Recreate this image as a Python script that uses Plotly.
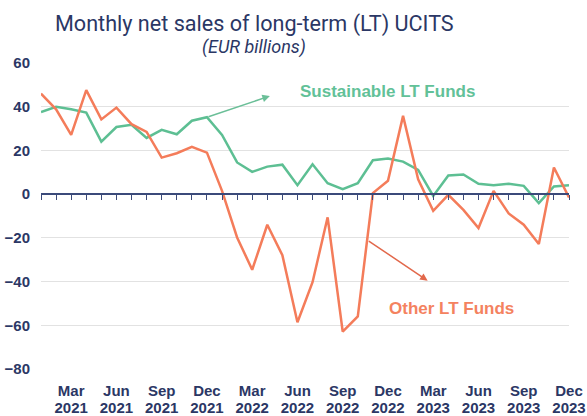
import plotly.graph_objects as go

months = ["Jan 2021", "Feb 2021", "Mar 2021", "Apr 2021", "May 2021", "Jun 2021",
          "Jul 2021", "Aug 2021", "Sep 2021", "Oct 2021", "Nov 2021", "Dec 2021",
          "Jan 2022", "Feb 2022", "Mar 2022", "Apr 2022", "May 2022", "Jun 2022",
          "Jul 2022", "Aug 2022", "Sep 2022", "Oct 2022", "Nov 2022", "Dec 2022",
          "Jan 2023", "Feb 2023", "Mar 2023", "Apr 2023", "May 2023", "Jun 2023",
          "Jul 2023", "Aug 2023", "Sep 2023", "Oct 2023", "Nov 2023", "Dec 2023"]

sustainable = [37.6, 40.0, 38.8, 37.3, 24.0, 30.7, 31.7, 25.7, 29.4, 27.4, 33.6, 35.2,
               27.1, 14.5, 10.2, 12.6, 13.5, 4.1, 13.7, 5.0, 2.3, 5.0, 15.5, 16.3,
               14.9, 11.1, -0.8, 8.5, 9.0, 4.7, 4.1, 4.7, 3.8, -4.1, 3.5, 4.1]

other = [46.0, 38.8, 27.1, 47.6, 34.2, 39.6, 32.0, 28.5, 16.7, 18.7, 21.6, 19.0,
         1.5, -19.8, -34.6, -14.0, -27.9, -58.6, -40.3, -10.6, -62.9, -55.9, 0.5, 6.1,
         35.8, 6.8, -7.6, -0.3, -7.2, -15.5, 1.5, -8.8, -14.0, -22.8, 12.2, -1.5]

tick_months = ["Mar 2021", "Jun 2021", "Sep 2021", "Dec 2021", "Mar 2022", "Jun 2022",
               "Sep 2022", "Dec 2022", "Mar 2023", "Jun 2023", "Sep 2023", "Dec 2023"]

y_range = [-80, 60]

GREEN = "#5dbf93"
ORANGE = "#f47c5a"
NAVY = "#2b3765"

x_idx = list(range(len(months)))
tickvals = [months.index(m) for m in tick_months]
month_text = [m.split(" ")[0] for m in tick_months]
year_text = [m.split(" ")[1] for m in tick_months]
x_range = [0, len(months) - 1]

fig = go.Figure()
fig.add_trace(go.Scatter(x=x_idx, y=sustainable, mode="lines", name="Sustainable LT Funds",
                         line=dict(color=GREEN, width=2.5)))
fig.add_trace(go.Scatter(x=x_idx, y=other, mode="lines", name="Other LT Funds",
                         line=dict(color=ORANGE, width=2.5)))
# carrier traces for the extra axes (zero line with monthly ticks, year labels)
fig.add_trace(go.Scatter(x=[], y=[], xaxis="x2", showlegend=False, hoverinfo="skip"))
fig.add_trace(go.Scatter(x=[], y=[], xaxis="x3", showlegend=False, hoverinfo="skip"))

zero_pos = (0 - y_range[0]) / (y_range[1] - y_range[0])
tick_font = dict(size=15, color=NAVY, family="Liberation Sans, Arial", weight="bold")

fig.update_layout(
    width=587, height=416,
    margin=dict(l=41, r=18, t=63, b=47),
    paper_bgcolor="white", plot_bgcolor="white",
    showlegend=False,
    font=dict(family="Liberation Sans, Arial, sans-serif", color=NAVY),
    xaxis=dict(range=x_range, tickmode="array", tickvals=tickvals,
               ticktext=month_text, showgrid=False, showline=False, zeroline=False,
               ticks="", tickfont=tick_font, ticklabelstandoff=11, automargin=False),
    xaxis3=dict(overlaying="x", anchor="y", side="bottom", range=x_range,
                tickmode="array", tickvals=tickvals, ticktext=year_text,
                showgrid=False, showline=False, zeroline=False, ticks="",
                tickfont=tick_font, ticklabelstandoff=28, automargin=False),
    xaxis2=dict(overlaying="x", anchor="free", position=zero_pos, side="bottom",
                range=x_range, tickmode="linear", tick0=0, dtick=1,
                ticks="outside", ticklen=5, tickwidth=1.2, tickcolor="#3b4a7a",
                showline=True, linecolor="#3b4a7a", linewidth=1.5,
                showticklabels=False, showgrid=False, zeroline=False, automargin=False),
    yaxis=dict(range=y_range, dtick=20, tick0=0, showgrid=True, gridcolor="#e2e2e2",
               gridwidth=1, zeroline=False, showline=False, ticks="",
               tickfont=tick_font, ticklabelstandoff=10, automargin=False),
)

# title and subtitle
fig.add_annotation(text="Monthly net sales of long-term (LT) UCITS", xref="paper", yref="paper",
                   x=0.4037, y=1.128, xanchor="center", yanchor="middle", showarrow=False,
                   font=dict(family="Roboto", size=21.6, color=NAVY))
fig.add_annotation(text="<i>(EUR billions)</i>", xref="paper", yref="paper",
                   x=0.4037, y=1.052, xanchor="center", yanchor="middle", showarrow=False,
                   font=dict(family="Roboto", size=18, color=NAVY))

# series labels
fig.add_annotation(text="<b>Sustainable LT Funds</b>", x=22.98, y=47.0, showarrow=False,
                   xanchor="center", yanchor="middle",
                   font=dict(family="Liberation Sans, Arial", size=17, color="#62c198"))
fig.add_annotation(text="<b>Other LT Funds</b>", x=27.23, y=-52.1, showarrow=False,
                   xanchor="center", yanchor="middle",
                   font=dict(family="Liberation Sans, Arial", size=17, color="#f4825f"))

# arrows
fig.add_annotation(text="", x=15.17, y=44.9, ax=11, ay=35.2, axref="x", ayref="y",
                   showarrow=True, arrowhead=2, arrowsize=1, arrowwidth=1.5,
                   arrowcolor="#6bbf98")
fig.add_annotation(text="", x=25.63, y=-39.6, ax=21.63, ay=-21.0, axref="x", ayref="y",
                   showarrow=True, arrowhead=2, arrowsize=1, arrowwidth=1.5,
                   arrowcolor="#e2684b")

fig.write_html("out.html", config={"displayModeBar": False},
               post_script="document.body.style.margin='0';document.body.style.overflow='hidden';")
